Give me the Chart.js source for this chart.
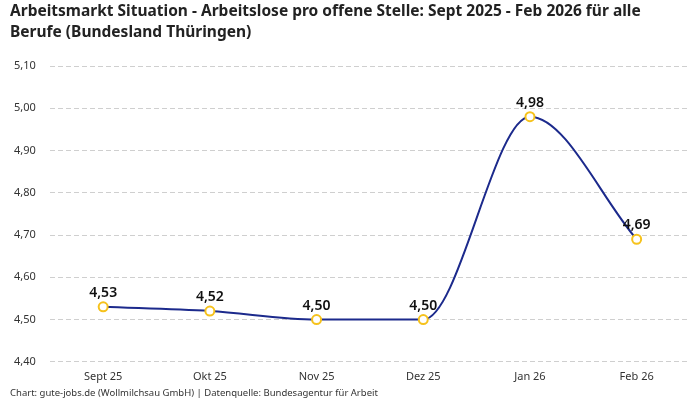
<!DOCTYPE html>
<html lang="de">
<head>
  <meta charset="UTF-8" />
  <title>Arbeitsmarkt Thüringen</title>
  <script src="https://cdn.jsdelivr.net/npm/chart.js"></script>
  <style>
    html, body { margin: 0; padding: 0; background: #fff; }
    #wrap { position: relative; width: 700px; height: 400px; font-family: "Noto Sans", sans-serif; }
    #title { position: absolute; left: 10px; top: 0px; width: 680px; font-size: 15.5px; font-weight: 700; line-height: 21px; color: #222; }
    #source { position: absolute; left: 10px; top: 386px; font-size: 9.5px; color: #333; }
    #chartBox { position: absolute; left: 0; top: 0; width: 700px; height: 400px; }
  </style>
</head>
<body>
<div id="wrap">
  <div id="chartBox"><canvas id="arbeitsChart"></canvas></div>
  <div id="title">Arbeitsmarkt Situation - Arbeitslose pro offene Stelle: Sept 2025 - Feb 2026 für alle Berufe (Bundesland Thüringen)</div>
  <div id="source">Chart: gute-jobs.de (Wollmilchsau GmbH) | Datenquelle: Bundesagentur für Arbeit</div>
</div>

<script>
  // Monate und Werte (Arbeitslose pro offene Stelle)
  const months = ["Sept 25", "Okt 25", "Nov 25", "Dez 25", "Jan 26", "Feb 26"];
  const ratio = [4.53, 4.52, 4.50, 4.50, 4.98, 4.69];

  const fmt = v => v.toFixed(2).replace(".", ",");

  // simple value labels above the points
  const valueLabels = {
    id: "valueLabels",
    afterDatasetsDraw(chart) {
      const ctx = chart.ctx;
      const meta = chart.getDatasetMeta(0);
      ctx.save();
      ctx.font = "600 14px 'Noto Sans', sans-serif";
      ctx.fillStyle = "#111";
      ctx.textAlign = "center";
      ctx.textBaseline = "bottom";
      meta.data.forEach((pt, i) => {
        ctx.fillText(fmt(ratio[i]), pt.x, pt.y - 7);
      });
      ctx.restore();
    }
  };

  new Chart(document.getElementById("arbeitsChart"), {
    type: "line",
    data: {
      labels: months,
      datasets: [{
        data: ratio,
        borderColor: "#1c2a8c",
        borderWidth: 2,
        cubicInterpolationMode: "monotone",
        pointRadius: 4.5,
        pointBorderWidth: 2,
        pointBackgroundColor: "#fff",
        pointBorderColor: "#f6c21c",
        fill: false
      }]
    },
    options: {
      responsive: true,
      maintainAspectRatio: false,
      animation: false,
      layout: { padding: { left: 0, right: 10, top: 66, bottom: 9 } },
      plugins: {
        legend: { display: false },
        tooltip: { enabled: false }
      },
      scales: {
        x: {
          offset: true,
          grid: { display: false, drawTicks: false },
          border: { display: false },
          ticks: { color: "#333", font: { family: "Noto Sans", size: 11 }, padding: 8 }
        },
        y: {
          min: 4.4,
          max: 5.1,
          grid: { color: "#cfcfcf", drawTicks: false },
          border: { display: false, dash: [5, 3] },
          ticks: {
            stepSize: 0.1,
            padding: 14,
            color: "#333",
            font: { family: "Noto Sans", size: 11 },
            callback: v => fmt(v)
          }
        }
      }
    },
    plugins: [valueLabels]
  });
</script>
</body>
</html>
